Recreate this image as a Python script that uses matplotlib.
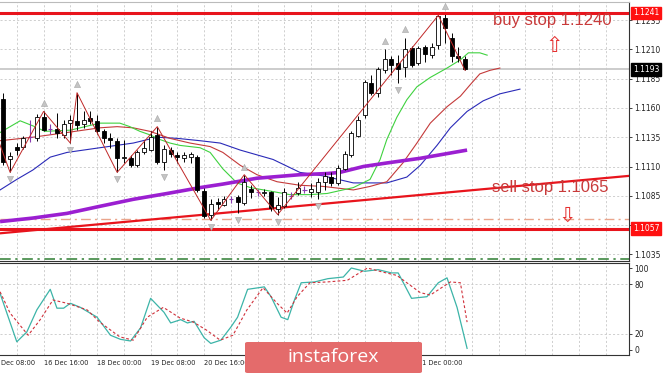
import numpy as np
import matplotlib
matplotlib.use("Agg")
import matplotlib.pyplot as plt
import matplotlib.transforms as mtransforms
from matplotlib.patches import FancyBboxPatch

# EURUSD H4 candles (bar index 0 = 13 Dec 16:00)
opens = [1.1168, 1.1116, 1.1127, 1.1127, 1.1135, 1.1134, 1.1152, 1.1142, 1.1142, 1.1137,
         1.1147, 1.1149, 1.1146, 1.1151, 1.1149, 1.1140, 1.1134, 1.1132, 1.1117, 1.1117,
         1.1111, 1.1122, 1.1124, 1.1137, 1.1114, 1.1124, 1.1120, 1.1117, 1.1118, 1.1118,
         1.1089, 1.1069, 1.1080, 1.1077, 1.1082, 1.1084, 1.1079, 1.1091, 1.1088, 1.1087,
         1.1088, 1.1074, 1.1076, 1.1085, 1.1087, 1.1090, 1.1088, 1.1088, 1.1097, 1.1101,
         1.1096, 1.1108, 1.1120, 1.1136, 1.1154, 1.1181, 1.1173, 1.1192, 1.1202, 1.1198,
         1.1195, 1.1211, 1.1198, 1.1212, 1.1205, 1.1214, 1.1237, 1.1220, 1.1204, 1.1202]
closes = [1.1114, 1.1119, 1.1124, 1.1134, 1.1135, 1.1152, 1.1141, 1.1142, 1.1139, 1.1146,
          1.1150, 1.1145, 1.1150, 1.1149, 1.1140, 1.1134, 1.1133, 1.1117, 1.1118, 1.1111,
          1.1122, 1.1126, 1.1135, 1.1114, 1.1125, 1.1121, 1.1118, 1.1120, 1.1121, 1.1090,
          1.1068, 1.1078, 1.1078, 1.1082, 1.1082, 1.1080, 1.1097, 1.1088, 1.1088, 1.1088,
          1.1075, 1.1077, 1.1088, 1.1085, 1.1092, 1.1090, 1.1091, 1.1097, 1.1102, 1.1096,
          1.1109, 1.1121, 1.1139, 1.1150, 1.1182, 1.1173, 1.1193, 1.1202, 1.1197, 1.1193,
          1.1210, 1.1197, 1.1211, 1.1206, 1.1212, 1.1238, 1.1228, 1.1204, 1.1203, 1.1193]
highs = [1.1173, 1.1122, 1.1130, 1.1136, 1.1150, 1.1155, 1.1157, 1.1146, 1.1156, 1.1150,
         1.1154, 1.1173, 1.1157, 1.1157, 1.1154, 1.1142, 1.1139, 1.1134, 1.1133, 1.1120,
         1.1124, 1.1133, 1.1140, 1.1144, 1.1128, 1.1127, 1.1122, 1.1122, 1.1122, 1.1120,
         1.1092, 1.1082, 1.1083, 1.1085, 1.1085, 1.1086, 1.1103, 1.1094, 1.1091, 1.1091,
         1.1089, 1.1084, 1.1092, 1.1088, 1.1097, 1.1093, 1.1096, 1.1100, 1.1105, 1.1105,
         1.1111, 1.1123, 1.1140, 1.1153, 1.1184, 1.1188, 1.1195, 1.1210, 1.1204, 1.1205,
         1.1220, 1.1213, 1.1213, 1.1214, 1.1215, 1.1239, 1.1240, 1.1224, 1.1212, 1.1204]
lows = [1.1111, 1.1105, 1.1120, 1.1125, 1.1131, 1.1132, 1.1140, 1.1138, 1.1134, 1.1134,
        1.1130, 1.1141, 1.1143, 1.1146, 1.1138, 1.1130, 1.1126, 1.1105, 1.1113, 1.1110,
        1.1110, 1.1121, 1.1123, 1.1112, 1.1107, 1.1118, 1.1113, 1.1114, 1.1113, 1.1088,
        1.1066, 1.1064, 1.1073, 1.1076, 1.1079, 1.1070, 1.1077, 1.1083, 1.1085, 1.1085,
        1.1072, 1.1069, 1.1075, 1.1082, 1.1086, 1.1087, 1.1084, 1.1082, 1.1090, 1.1093,
        1.1094, 1.1107, 1.1118, 1.1135, 1.1151, 1.1171, 1.1169, 1.1190, 1.1188, 1.1181,
        1.1186, 1.1195, 1.1197, 1.1199, 1.1203, 1.1210, 1.1215, 1.1199, 1.1199, 1.1192]

# Alligator lines (shifted forward) and slow MA, read at sample bars
lips_bars = [-0.5, 2.5, 4.7, 6.2, 10.0, 14.4, 17.4, 18.9, 20.4, 21.9, 23.4, 24.9, 26.4, 27.9, 29.4,
             30.9, 32.8, 34.9, 36.9, 39.9, 42.8, 45.8, 48.4, 52.3, 54.8, 56.3, 57.3, 58.8, 60.3,
             61.8, 63.8, 66.3, 68.3, 69.5, 71.2, 72.3]
lips = [1.1139, 1.1149, 1.1144, 1.1140, 1.1141, 1.1147, 1.1147, 1.1144, 1.1140, 1.1137, 1.1133,
        1.1130, 1.1128, 1.1127, 1.1126, 1.1122, 1.1108, 1.1096, 1.1092, 1.1089, 1.1086, 1.1086,
        1.1087, 1.1092, 1.1099, 1.1116, 1.1133, 1.1152, 1.1167, 1.1178, 1.1186, 1.1194, 1.1201,
        1.1207, 1.1207, 1.1205]
teeth_bars = [-0.5, 4.4, 9.5, 14.4, 17.0, 19.4, 21.9, 24.9, 27.9, 30.9, 32.8, 35.4, 37.9, 40.9,
              44.3, 47.8, 52.3, 54.8, 57.3, 59.7, 61.8, 63.8, 66.3, 68.3, 69.8, 71.2, 72.7, 74.2]
teeth = [1.1132, 1.1135, 1.1139, 1.1143, 1.1144, 1.1143, 1.1140, 1.1134, 1.1130, 1.1127, 1.1122,
         1.1111, 1.1103, 1.1097, 1.1094, 1.1093, 1.1090, 1.1093, 1.1097, 1.1113, 1.1130, 1.1147,
         1.1161, 1.1170, 1.1180, 1.1189, 1.1192, 1.1194]
jaw_bars = [-0.5, 2.0, 4.4, 7.0, 9.5, 14.4, 19.4, 23.0, 26.0, 29.4, 32.4, 35.4, 40.3, 44.3, 47.8,
            52.3, 57.3, 60.3, 62.3, 64.8, 66.8, 69.3, 71.7, 74.2, 77.2]
jaw = [1.1090, 1.1099, 1.1107, 1.1118, 1.1122, 1.1126, 1.1130, 1.1135, 1.1134, 1.1132, 1.1130,
       1.1124, 1.1116, 1.1105, 1.1102, 1.1096, 1.1096, 1.1101, 1.1111, 1.1128, 1.1143, 1.1157,
       1.1166, 1.1172, 1.1176]
slow_bars = [-0.5, 4.4, 9.5, 14.4, 19.4, 24.5, 29.4, 32.8, 37.9, 44.3, 48.4, 50.3, 53.8, 57.3,
             62.3, 69.3]
slow_ma = [1.1063, 1.1066, 1.1070, 1.1076, 1.1082, 1.1087, 1.1092, 1.1095, 1.1100, 1.1103,
           1.1104, 1.1105, 1.1110, 1.1113, 1.1117, 1.1124]

zz_bars = [-1, 1, 6, 10, 11, 17, 23, 31, 36, 41, 65, 69]
zz_prices = [1.1136, 1.1105, 1.1157, 1.1130, 1.1173, 1.1105, 1.1144, 1.1064, 1.1103, 1.1069,
             1.1239, 1.1192]
fractal_up = [6, 11, 23, 36, 57, 60, 66]
fractal_dn = [1, 10, 17, 24, 31, 35, 41, 47, 59]

buy_stop = 1.1241
sell_level = 1.1057
pending_sell = 1.1065
low_level = 1.1031
last_price = 1.1193
trend_bars = [-0.5, 93.5]
trend_prices = [1.1053, 1.1102]

# Stochastic
stoch_bars = [-0.5, 2.0, 3.5, 5.0, 7.0, 8.0, 9.0, 10.0, 11.5, 14.0, 16.0, 17.5, 19.0, 20.5, 22.0,
              24.0, 25.0, 26.5, 27.5, 28.5, 30.0, 31.0, 32.5, 34.0, 35.0, 36.5, 39.0, 40.0, 41.5,
              42.5, 43.5, 44.5, 46.5, 48.5, 50.8, 52.0, 54.0, 56.0, 58.0, 59.0, 61.0, 63.3, 65.0,
              66.3, 67.8, 69.3]
stoch_main = [69, 10, 22, 49, 74, 51, 51, 57, 52, 40, 18, 13, 11, 27, 63, 46, 33, 37, 33, 35, 15,
              8, 12, 28, 40, 74, 77, 65, 40, 37, 61, 82, 83, 87, 89, 100, 96, 98, 94, 94, 63, 65,
              82, 88, 52, 2]
sig_bars = [-0.5, 1.0, 3.7, 5.5, 7.4, 9.5, 12.5, 14.4, 17.4, 19.4, 21.5, 23.9, 26.4, 28.4, 30.4,
            32.4, 34.3, 36.4, 38.8, 40.9, 42.4, 43.9, 45.8, 48.4, 51.4, 54.4, 56.7, 58.8, 62.3,
            63.8, 66.8, 68.3, 69.3]
stoch_signal = [71, 45, 18, 37, 61, 57, 49, 34, 16, 12, 40, 52, 39, 34, 24, 12, 18, 49, 76, 57,
                45, 65, 82, 83, 85, 100, 95, 91, 70, 67, 83, 82, 34]

price_ticks = [1.1035, 1.1060, 1.1085, 1.1110, 1.1135, 1.1160, 1.1185, 1.1210, 1.1235]
# 1.1060 sits under the 1.1057 level box, so its label is not shown
price_labels = ["1.1035", "", "1.1085", "1.1110", "1.1135", "1.1160", "1.1185", "1.1210", "1.1235"]
# first label is cut by the left edge in the source ("13 Dec 08:00"),
# the ones at 24, 26 and 27 Dec are hidden by the logo
label_bars = [-0.4, 6, 14, 22, 30, 62]
date_labels = ["Dec 08:00", "16 Dec 16:00", "18 Dec 00:00", "19 Dec 08:00", "20 Dec 16:00",
               "31 Dec 00:00"]

W, H = 665, 375
fig = plt.figure(figsize=(W / 100, H / 100), dpi=100)
ax = fig.add_axes([0, 1 - 261 / H, 629 / W, 259 / H])
ax2 = fig.add_axes([0, 20 / H, 629 / W, 92 / H])

xmin, xmax = -0.51, 93.5
grid_kw = dict(color="#c8c8c8", lw=0.6, ls=(0, (2.5, 2.5)))
for a in (ax, ax2):
    a.set_xticks(np.arange(2, 94, 4))
    a.set_xlim(xmin, xmax)
    a.tick_params(axis="x", length=0, labelbottom=False)
    a.grid(axis="x", **grid_kw)
    a.yaxis.tick_right()
    a.tick_params(axis="y", length=2, width=0.6, labelsize=5.5, pad=2, colors="#222222")
    a.spines["left"].set_visible(False)
    for s in ("right", "bottom", "top"):
        a.spines[s].set_linewidth(0.8)
        a.spines[s].set_color("#333333")
    a.set_axisbelow(True)
ax.spines["top"].set_color("#bbbbbb")

ax.set_yticks(price_ticks)
ax.set_yticklabels(price_labels)
ax.set_ylim(1.1235 - 241 / 11720, 1.1235 + 18 / 11720)
ax.grid(axis="y", **grid_kw)

# levels
ax.axhline(last_price, color="#c8c8c8", lw=1.3, zorder=1)
ax.axhline(pending_sell, color="#eaa58c", lw=1.0, ls=(0, (7, 3, 1.5, 3)), zorder=1)
ax.axhline(low_level, color="#2e7d32", lw=1.1, ls=(0, (7, 3, 1.5, 3)), zorder=1)
ax.plot(trend_bars, trend_prices, color="#e8141c", lw=1.6, zorder=2)

# moving averages
ax.plot(jaw_bars, jaw, color="#2a2ab8", lw=0.8, zorder=2)
ax.plot(teeth_bars, teeth, color="#c43a3a", lw=0.8, zorder=2)
ax.plot(lips_bars, lips, color="#3fd23f", lw=0.8, zorder=2)
ax.plot(slow_bars, slow_ma, color="#9b1fd1", lw=2.6, zorder=2, solid_capstyle="butt")

# candles
idx = np.arange(len(opens))
for i in idx:
    o, c, h, l = opens[i], closes[i], highs[i], lows[i]
    if o == c:
        ax.vlines(i, l, h, color="#8a3cb0", lw=0.8, zorder=4)
        ax.hlines(o, i - 0.3, i + 0.3, color="#8a3cb0", lw=0.8, zorder=4)
        continue
    ax.vlines(i, l, h, color="black", lw=0.7, zorder=3)
    fc = "white" if c > o else "black"
    ax.bar(i, abs(c - o), bottom=min(o, c), width=0.6, color=fc, edgecolor="black",
           lw=0.6, zorder=4)

# zigzag and fractals
ax.plot(zz_bars, zz_prices, color="#c02828", lw=0.7, zorder=5)
ax.scatter(fractal_up, [highs[i] + 0.0007 for i in fractal_up], marker="^", s=20,
           color="#c4c4c4", edgecolors="#999999", linewidths=0.3, zorder=6)
ax.scatter(fractal_dn, [lows[i] - 0.0006 for i in fractal_dn], marker="v", s=20,
           color="#c4c4c4", edgecolors="#999999", linewidths=0.3, zorder=6)

# horizontal stop levels
ax.axhline(buy_stop, color="#e8141c", lw=2.2, zorder=5)
ax.axhline(sell_level, color="#e8141c", lw=2.2, zorder=5)

txt_color = "#c83a3a"
ax.text(73.2, 1.1231, "buy stop 1.1240", color=txt_color, fontsize=12,
        family="Liberation Sans", va="baseline", ha="left", zorder=7)
ax.text(73.0, 1.1088, "sell stop 1.1065", color=txt_color, fontsize=12,
        family="Liberation Sans", va="baseline", ha="left", zorder=7)
ax.text(82.3, 1.1213, "\u21e7", color="#e53030", fontsize=15, family="DejaVu Sans",
        ha="center", va="center", zorder=7)
ax.text(84.2, 1.1068, "\u21e9", color="#e53030", fontsize=15, family="DejaVu Sans",
        ha="center", va="center", zorder=7)

# price boxes on the axis
trans = mtransforms.blended_transform_factory(ax.transAxes, ax.transData)
for p, bg in ((buy_stop, "#ff1010"), (last_price, "black"), (sell_level, "#ff1010")):
    ax.text(1.006, p, "%.4f" % p, transform=trans, color="white", fontsize=5.5,
            ha="left", va="center", zorder=8, clip_on=False,
            bbox=dict(boxstyle="square,pad=0.25", fc=bg, ec=bg))

# stochastic panel
ax2.set_yticks([0, 20, 80, 100])
ax2.set_yticklabels(["0", "20", "80", "100"])
ax2.set_ylim(-6.1, 106.1)
for lvl in (20, 80):
    ax2.axhline(lvl, **grid_kw)
ax2.plot(stoch_bars, stoch_main, color="#3cb4a8", lw=0.9, zorder=3)
ax2.plot(sig_bars, stoch_signal, color="#d0303a", lw=0.8, ls=(0, (2.5, 2)), zorder=3)

tx = mtransforms.blended_transform_factory(ax2.transData, ax2.transAxes)
for b, lab in zip(label_bars, date_labels):
    ax2.text(b, -0.09, lab, transform=tx, fontsize=4.8, ha="left", va="center",
             color="#222222", clip_on=False)

# logo
fig.patches.append(FancyBboxPatch((245 / W, 2 / H), 177 / W, 31 / H,
                                  boxstyle="round,pad=0,rounding_size=0.004",
                                  transform=fig.transFigure, fc="#e46b6b", ec="none",
                                  zorder=10))
fig.text(333 / W, 1 - 357 / H, "instaforex", color="white", fontsize=14,
         family="Open Sans", ha="center", va="center", zorder=11)

fig.savefig("out.png", dpi=100, facecolor="white")
